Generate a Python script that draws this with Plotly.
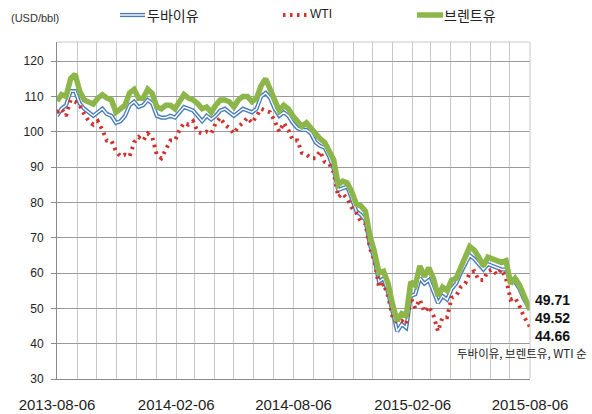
import pandas as pd
import plotly.graph_objects as go

# weekly observations (Tuesdays) + final day
dates = list(pd.date_range("2013-08-06", "2015-08-04", freq="7D").strftime("%Y-%m-%d")) + ["2015-08-06"]

dubai = [
    104.5, 106.5, 107.5, 111.5,            # 2013-08
    111.5, 108.0, 106.5, 105.5,            # 09
    104.5, 105.5, 106.5, 105.0, 104.5,     # 10
    102.5, 103.0, 104.5, 107.5,            # 11
    108.5, 107.0, 107.5, 109.0, 108.0,     # 12
    104.5, 104.0, 104.0, 104.5,            # 2014-01
    104.0, 105.5, 107.0, 106.5,            # 02
    106.0, 104.5, 103.0, 104.5,            # 03
    103.5, 104.5, 106.0, 106.5, 105.5,     # 04
    104.5, 105.5, 106.5, 106.0,            # 05
    105.5, 106.5, 110.0, 111.0,            # 06
    109.5, 106.5, 104.5, 105.5, 104.5,     # 07
    102.5, 101.0, 100.5, 100.5,            # 08
    99.5, 97.0, 96.0, 95.5, 93.0,          # 09
    89.5, 83.5, 84.0, 84.5,                # 10
    81.0, 77.5, 76.5, 75.0,                # 11
    68.0, 64.0, 57.5, 58.5, 54.5,          # 12
    48.5, 43.5, 45.5, 44.5,                # 2015-01
    53.5, 54.0, 58.5, 57.0,                # 02
    58.0, 55.0, 51.5, 53.5, 52.5,          # 03
    55.5, 57.0, 60.0, 62.5,                # 04
    65.0, 64.0, 62.5, 61.0,                # 05
    62.5, 62.0, 61.5, 61.0, 61.0,          # 06
    57.5, 57.5, 55.5, 52.5,                # 07
    50.5, 49.71,                           # 08
]

wti = [
    105.5, 106.5, 104.5, 109.0,
    108.5, 107.5, 105.0, 103.0,
    102.0, 103.0, 100.5, 97.5, 97.5,
    94.5, 93.0, 93.5, 93.0,
    97.0, 98.5, 97.5, 99.5, 98.5,
    93.5, 92.5, 95.0, 97.5,
    97.5, 100.5, 102.5, 102.0,
    103.0, 100.0, 99.5, 100.0,
    99.5, 102.5, 104.0, 102.0, 101.0,
    99.5, 101.5, 102.5, 104.0,
    102.5, 104.5, 106.5, 106.0,
    105.5, 103.0, 100.0, 102.5, 100.5,
    97.5, 97.5, 94.0, 93.5,
    92.5, 92.5, 94.5, 91.5, 91.0,
    88.5, 81.5, 82.5, 81.0,
    78.5, 77.0, 74.5, 74.0,
    67.0, 63.5, 56.0, 57.0, 53.5,
    47.5, 46.0, 46.5, 45.5,
    53.0, 50.0, 52.5, 49.0,
    50.5, 48.0, 43.5, 47.5, 47.5,
    53.0, 53.5, 56.0, 57.0,
    60.0, 60.5, 58.0, 58.0,
    60.5, 61.0, 59.5, 61.0, 58.5,
    52.5, 53.0, 50.5, 47.5,
    45.5, 44.66,
]

brent = [
    108.7, 110.5, 110.0, 115.0,
    116.3, 111.5, 109.0, 108.5,
    107.8, 109.5, 110.5, 109.5, 109.0,
    105.5, 106.5, 107.5, 111.0,
    112.0, 109.5, 109.5, 112.0, 110.8,
    107.0, 106.5, 107.5, 107.5,
    106.5, 108.7, 110.5, 109.5,
    109.0, 108.0, 106.5, 107.0,
    105.5, 107.5, 109.0, 109.0, 108.5,
    107.0, 109.0, 110.0, 110.0,
    108.5, 109.5, 113.0, 115.0,
    112.0, 108.5, 106.0, 107.5, 106.5,
    104.5, 103.0, 101.5, 102.5,
    101.0, 99.0, 98.0, 97.0, 94.5,
    92.0, 85.0, 86.0, 85.5,
    83.0, 79.5, 79.0, 77.5,
    70.5, 66.0, 60.0, 60.5, 57.0,
    51.0, 46.5, 48.5, 48.0,
    57.5, 56.5, 62.0, 59.0,
    61.5, 58.5, 53.5, 56.0, 55.0,
    58.0, 58.5, 62.0, 64.5,
    67.5, 66.5, 64.5, 62.0,
    64.5, 64.0, 63.5, 63.0, 63.5,
    57.0, 58.5, 56.5, 53.5,
    50.0, 49.52,
]

series_names = ["두바이유", "WTI", "브렌트유"]
x_ticks = ["2013-08-06", "2014-02-06", "2014-08-06", "2015-02-06", "2015-08-06"]
unit_label = "(USD/bbl)"
order_note = "두바이유, 브렌트유, WTI 순"

BLUE = "#4a7ebb"
RED = "#d0312d"
GREEN = "#8db64a"
SANS = "Liberation Sans, Arial, sans-serif"
KR = "Noto Sans CJK KR, sans-serif"

W, H = 592, 414
L, R, T, B = 57, 530, 42, 379


def px(xp):
    return (xp - L) / (R - L)


def py(yp):
    return (B - yp) / (B - T)


fig = go.Figure()
# Dubai (double line: blue outline + white core)
fig.add_trace(go.Scatter(x=dates, y=dubai, mode="lines", line=dict(color=BLUE, width=4.2),
                         showlegend=False, hoverinfo="skip"))
fig.add_trace(go.Scatter(x=dates, y=dubai, mode="lines", line=dict(color="white", width=1.4),
                         showlegend=False, name=series_names[0]))
# WTI dotted
fig.add_trace(go.Scatter(x=dates, y=wti, mode="lines", line=dict(color=RED, width=4, dash="2.5px,4.5px"),
                         showlegend=False, name=series_names[1]))
# Brent thick green
fig.add_trace(go.Scatter(x=dates, y=brent, mode="lines", line=dict(color=GREEN, width=5.5),
                         showlegend=False, name=series_names[2]))

shapes = []
# top & right border
shapes.append(dict(type="line", xref="paper", yref="paper", x0=0, x1=1, y0=1, y1=1,
                   line=dict(color="#c8c8c8", width=1)))
shapes.append(dict(type="line", xref="paper", yref="paper", x0=1, x1=1, y0=0, y1=1,
                   line=dict(color="#c8c8c8", width=1)))
# manual legend samples
ly = py(15)
shapes.append(dict(type="line", xref="paper", yref="paper", x0=px(120), x1=px(145), y0=ly, y1=ly,
                   line=dict(color=BLUE, width=4.2)))
shapes.append(dict(type="line", xref="paper", yref="paper", x0=px(120), x1=px(145), y0=ly, y1=ly,
                   line=dict(color="white", width=1.4)))
shapes.append(dict(type="line", xref="paper", yref="paper", x0=px(283), x1=px(309), y0=ly, y1=ly,
                   line=dict(color=RED, width=4, dash="2.5px,4.5px")))
shapes.append(dict(type="line", xref="paper", yref="paper", x0=px(417), x1=px(443), y0=ly, y1=ly,
                   line=dict(color=GREEN, width=5.5)))

annotations = [
    dict(text=unit_label, x=px(35), y=py(18), xref="paper", yref="paper", xanchor="center", yanchor="middle",
         showarrow=False, font=dict(family=SANS, size=11, color="#333333")),
    dict(text=series_names[0], x=px(173), y=py(15), xref="paper", yref="paper", xanchor="center",
         yanchor="middle", showarrow=False, font=dict(family=KR, size=14, color="#222222")),
    dict(text=series_names[1], x=px(321), y=py(14), xref="paper", yref="paper", xanchor="center",
         yanchor="middle", showarrow=False, font=dict(family=SANS, size=12, color="#222222")),
    dict(text=series_names[2], x=px(470), y=py(15), xref="paper", yref="paper", xanchor="center",
         yanchor="middle", showarrow=False, font=dict(family=KR, size=14, color="#222222")),
]
end_text = "<br>".join(f"<b>{v:.2f}</b>" for v in (dubai[-1], brent[-1], wti[-1]))
annotations.append(dict(text=end_text, x=px(552), y=py(318), xref="paper", yref="paper",
                        xanchor="center", yanchor="middle", align="left", showarrow=False,
                        font=dict(family=SANS, size=14, color="#111111")))
annotations.append(dict(text=order_note, x=px(522), y=py(353), xref="paper", yref="paper",
                        xanchor="center", yanchor="middle", showarrow=False,
                        font=dict(family=KR, size=11.5, color="#222222")))

fig.update_layout(
    width=W, height=H, autosize=False,
    margin=dict(l=L, r=W - R, t=T, b=H - B),
    paper_bgcolor="white", plot_bgcolor="white",
    shapes=shapes, annotations=annotations,
    showlegend=False,
)
fig.update_xaxes(
    type="date", range=[x_ticks[0], x_ticks[-1]], automargin=False,
    tickmode="array", tickvals=x_ticks, ticktext=x_ticks,
    showgrid=True, gridcolor="#c8c8c8", gridwidth=1,
    minor=dict(dtick="M1", tick0=x_ticks[0], showgrid=True, gridcolor="#c8c8c8", gridwidth=1),
    showline=True, linecolor="#8a8a8a", linewidth=1,
    ticks="", ticklabelstandoff=12,
    tickfont=dict(family=SANS, size=15, color="#222222"),
    zeroline=False,
)
fig.update_yaxes(
    range=[30, 125.4], tick0=30, dtick=10, automargin=False,
    showgrid=True, gridcolor="#9a9a9a", gridwidth=1,
    showline=True, linecolor="#8a8a8a", linewidth=1,
    ticks="outside", ticklen=5, tickcolor="#8a8a8a",
    ticklabelstandoff=5,
    tickfont=dict(family=SANS, size=12, color="#222222"),
    zeroline=False,
)

post = (
    "document.documentElement.style.margin='0px';"
    "document.body.style.margin='0px';document.body.style.padding='0px';"
    "document.body.style.overflow='hidden';"
)
fig.write_html("out.html", post_script=post, config={"displayModeBar": False, "responsive": False})
